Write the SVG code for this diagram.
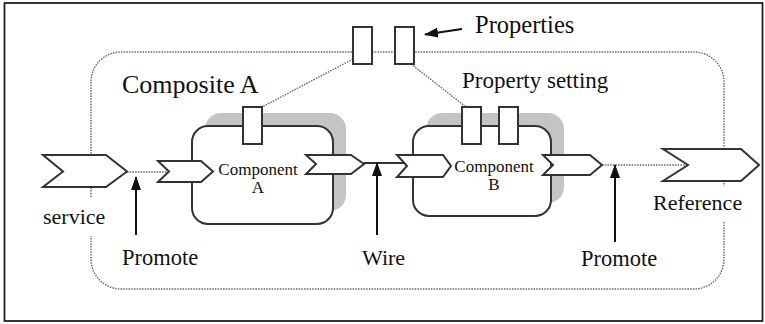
<svg xmlns="http://www.w3.org/2000/svg" width="765" height="324" viewBox="0 0 765 324">
<style>
.lbl{font-family:'Liberation Serif','Times New Roman',serif;font-size:22px;fill:#111}
.cmp{font-family:'Liberation Serif','Times New Roman',serif;font-size:17px;fill:#111;text-anchor:middle}
.dot{fill:none;stroke:#666;stroke-width:1.4;stroke-dasharray:1.5 1.2}
.box{fill:#fff;stroke:#333;stroke-width:2}
.shadow{fill:#c4c4c4;stroke:none}
.chev{fill:#fff;stroke:#333;stroke-width:2;stroke-linejoin:miter}
.prop{fill:#fff;stroke:#333;stroke-width:2}
.arr{stroke:#111;stroke-width:2;fill:none}
</style>
<defs>
<marker id="ah" markerWidth="14" markerHeight="10" refX="13" refY="5" orient="auto" markerUnits="userSpaceOnUse">
<path d="M0,0 L14,5 L0,10 Z" fill="#111"/>
</marker>
</defs>
<rect x="4.5" y="3" width="758" height="318" fill="#fff" stroke="#222" stroke-width="1.8"/>

<g id="composite">
<path class="dot" d="M91,197 L91,82 A30,30 0 0 1 121,52 L694,52 A30,30 0 0 1 724,82 L724,186"/>
<path class="dot" d="M724,222 L724,259 A30,30 0 0 1 694,289 L121,289 A30,30 0 0 1 91,259 L91,236"/>
<text class="lbl" x="122" y="93" style="font-size:26px">Composite A</text>
</g>

<g id="connectors">
<line class="dot" x1="353" y1="59" x2="262" y2="107"/>
<line class="dot" x1="411" y1="64" x2="466" y2="107"/>
<line class="dot" x1="127" y1="172" x2="169" y2="172"/>
<line x1="364" y1="163" x2="407" y2="163" stroke="#333" stroke-width="2"/>
<line class="dot" x1="602" y1="165" x2="688" y2="165"/>
<line class="arr" x1="462" y1="29" x2="425" y2="34.5" marker-end="url(#ah)"/>
<line class="arr" x1="136" y1="235" x2="136" y2="177" marker-end="url(#ah)"/>
<line class="arr" x1="377" y1="235" x2="377" y2="163" marker-end="url(#ah)"/>
<line class="arr" x1="615" y1="242" x2="615" y2="165" marker-end="url(#ah)"/>
</g>

<g id="properties">
<rect class="prop" x="353" y="27" width="19" height="37"/>
<rect class="prop" x="395" y="27" width="19" height="37"/>
<text class="lbl" x="475" y="33" style="font-size:24.5px">Properties</text>
</g>

<g id="component-a">
<rect class="shadow" x="205" y="113" width="141" height="98" rx="16"/>
<rect class="box" x="192" y="126" width="141" height="98" rx="16"/>
<rect class="prop" x="243" y="107" width="19" height="37"/>
<polygon class="chev" points="158,161 201,161 213,171.5 201,182 158,182 169,171.5"/>
<polygon class="chev" points="306,155 351,155 364,164 351,174 306,174 316,164"/>
<text class="cmp" x="258" y="175">Component</text>
<text class="cmp" x="258" y="193">A</text>
</g>

<g id="component-b">
<rect class="shadow" x="426" y="113" width="138" height="90" rx="16"/>
<rect class="box" x="413" y="126" width="138" height="90" rx="16"/>
<rect class="prop" x="462" y="107" width="19" height="37"/>
<rect class="prop" x="499" y="107" width="19" height="37"/>
<polygon class="chev" points="397,155 443,155 451,166 443,177 397,177 407,166"/>
<polygon class="chev" points="543,155 590,155 602,165 590,175 543,175 553,165"/>
<text class="cmp" x="494" y="172">Component</text>
<text class="cmp" x="494" y="190">B</text>
</g>
<text class="lbl" x="462" y="88" style="font-size:23px">Property setting</text>

<g id="service">
<polygon class="chev" points="43,155 106,155 127,171.5 106,187 43,187 63,171.5"/>
<text class="lbl" x="43" y="224">service</text>
</g>

<g id="reference">
<polygon class="chev" points="663,149 741,149 759,165 741,181 663,181 688,165"/>
<text class="lbl" x="653" y="210">Reference</text>
</g>

<g id="labels">
<text class="lbl" x="122" y="265" style="font-size:22.5px">Promote</text>
<text class="lbl" x="362" y="265">Wire</text>
<text class="lbl" x="581" y="266" style="font-size:22.5px">Promote</text>
</g>
</svg>
